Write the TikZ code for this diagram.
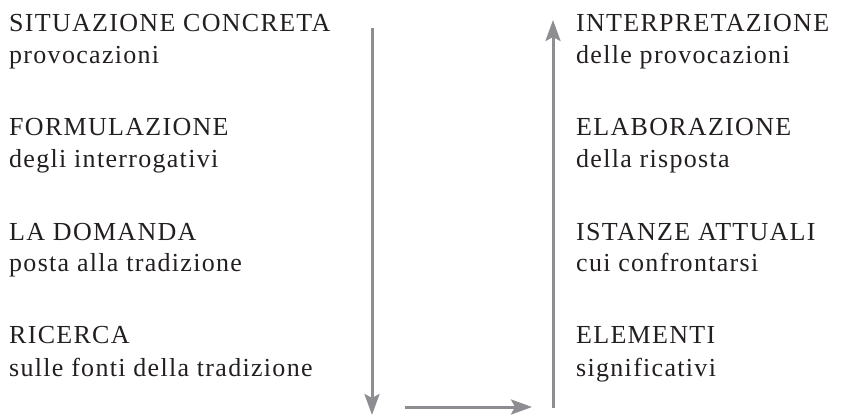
\documentclass[tikz,border=0pt]{standalone}
\usepackage{fontspec}
\setmainfont[LetterSpace=5]{Liberation Serif}
\usetikzlibrary{arrows.meta}
\definecolor{arrowgray}{HTML}{8E8E92}
\definecolor{txt}{HTML}{231F20}
\tikzset{
  lbl/.style={anchor=base west, inner sep=0pt, text=txt, font=\fontsize{26}{30}\selectfont},
  flow/.style={draw=arrowgray, line width=3pt, -{Stealth[length=21pt,width=15pt,inset=4pt]}}
}
\begin{document}
\begin{tikzpicture}[x=1pt,y=-1pt]
\useasboundingbox (0,0) rectangle (843,415);
% left column
\node[lbl] (l1a) at (9,31) {SITUAZIONE CONCRETA};
\node[lbl] (l1b) at (9,63) {provocazioni};
\node[lbl] (l2a) at (9,135) {FORMULAZIONE};
\node[lbl] (l2b) at (9,167) {degli interrogativi};
\node[lbl] (l3a) at (9,240) {LA DOMANDA};
\node[lbl] (l3b) at (9,271) {posta alla tradizione};
\node[lbl] (l4a) at (9,343) {RICERCA};
\node[lbl] (l4b) at (9,376) {sulle fonti della tradizione};
% right column
\node[lbl] (r1a) at (576,31) {INTERPRETAZIONE};
\node[lbl] (r1b) at (576,63) {delle provocazioni};
\node[lbl] (r2a) at (576,135) {ELABORAZIONE};
\node[lbl] (r2b) at (576,167) {della risposta};
\node[lbl] (r3a) at (576,240) {ISTANZE ATTUALI};
\node[lbl] (r3b) at (576,271) {cui confrontarsi};
\node[lbl] (r4a) at (576,343) {ELEMENTI};
\node[lbl] (r4b) at (576,376) {significativi};
% arrows
\coordinate (dtop) at (372,28);
\coordinate (dbot) at (372,415);
\coordinate (hl) at (405,407);
\coordinate (hr) at (532,407);
\coordinate (ubot) at (553,408);
\coordinate (utop) at (553,20);
\draw[flow] (dtop) -- (dbot);
\draw[flow] (hl) -- (hr);
\draw[flow] (ubot) -- (utop);
\end{tikzpicture}
\end{document}
